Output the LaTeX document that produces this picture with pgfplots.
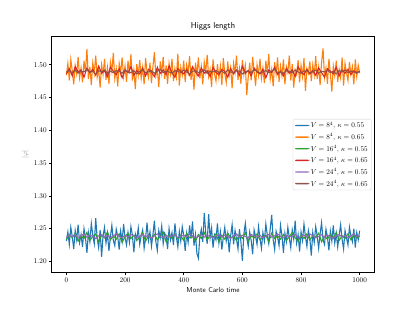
\documentclass[border=0pt]{standalone}
\usepackage{pgfplots}
\pgfplotsset{compat=1.18}
\usepackage{pgfplotstable}
\definecolor{mplblue}{HTML}{1F77B4}
\definecolor{mplorange}{HTML}{FF7F0E}
\definecolor{mplgreen}{HTML}{2CA02C}
\definecolor{mplred}{HTML}{D62728}
\definecolor{mplpurple}{HTML}{9467BD}
\definecolor{mplbrown}{HTML}{8C564B}

% V=8^4, kappa=0.55 (step 5)
\pgfplotstableread[row sep=\\]{y\\
1.231\\1.245\\1.226\\1.252\\1.238\\1.219\\1.247\\1.233\\1.256\\1.229\\
1.241\\1.222\\1.250\\1.236\\1.213\\1.244\\1.230\\1.258\\1.240\\1.227\\
1.266\\1.235\\1.221\\1.248\\1.207\\1.239\\1.252\\1.228\\1.243\\1.216\\
1.237\\1.255\\1.232\\1.224\\1.249\\1.238\\1.218\\1.246\\1.231\\1.257\\
1.236\\1.225\\1.244\\1.229\\1.253\\1.240\\1.214\\1.242\\1.234\\1.251\\
1.226\\1.239\\1.248\\1.220\\1.236\\1.259\\1.232\\1.245\\1.223\\1.241\\
1.262\\1.230\\1.217\\1.247\\1.236\\1.254\\1.227\\1.243\\1.238\\1.219\\
1.250\\1.233\\1.244\\1.225\\1.258\\1.237\\1.222\\1.246\\1.231\\1.253\\
1.240\\1.216\\1.243\\1.229\\1.255\\1.235\\1.261\\1.224\\1.241\\1.212\\
1.205\\1.238\\1.249\\1.230\\1.274\\1.244\\1.227\\1.272\\1.236\\1.251\\
1.221\\1.240\\1.233\\1.258\\1.228\\1.245\\1.218\\1.237\\1.252\\1.231\\
1.243\\1.214\\1.239\\1.256\\1.226\\1.247\\1.234\\1.219\\1.249\\1.230\\
1.201\\1.242\\1.258\\1.236\\1.223\\1.245\\1.232\\1.211\\1.248\\1.238\\
1.226\\1.253\\1.235\\1.220\\1.244\\1.231\\1.257\\1.240\\1.227\\1.250\\
1.271\\1.233\\1.218\\1.246\\1.237\\1.224\\1.255\\1.239\\1.213\\1.243\\
1.230\\1.252\\1.236\\1.221\\1.248\\1.234\\1.262\\1.228\\1.241\\1.215\\
1.245\\1.232\\1.257\\1.238\\1.223\\1.247\\1.235\\1.209\\1.244\\1.229\\
1.253\\1.239\\1.220\\1.242\\1.259\\1.233\\1.226\\1.249\\1.237\\1.217\\
1.246\\1.231\\1.255\\1.228\\1.243\\1.222\\1.240\\1.256\\1.234\\1.219\\
1.247\\1.236\\1.225\\1.252\\1.239\\1.230\\1.250\\1.221\\1.244\\1.233\\
1.247\\
}\tA

% V=8^4, kappa=0.65 (step 5)
\pgfplotstableread[row sep=\\]{y\\
1.484\\1.502\\1.476\\1.508\\1.491\\1.470\\1.499\\1.486\\1.512\\1.480\\
1.495\\1.473\\1.506\\1.489\\1.524\\1.478\\1.497\\1.469\\1.503\\1.487\\
1.514\\1.481\\1.493\\1.465\\1.500\\1.485\\1.509\\1.477\\1.496\\1.471\\
1.504\\1.490\\1.518\\1.479\\1.494\\1.467\\1.502\\1.488\\1.511\\1.482\\
1.498\\1.474\\1.506\\1.486\\1.516\\1.476\\1.492\\1.463\\1.501\\1.484\\
1.507\\1.479\\1.496\\1.470\\1.510\\1.489\\1.480\\1.503\\1.472\\1.497\\
1.519\\1.483\\1.493\\1.466\\1.505\\1.487\\1.512\\1.478\\1.499\\1.471\\
1.502\\1.486\\1.509\\1.475\\1.494\\1.481\\1.517\\1.468\\1.496\\1.484\\
1.506\\1.474\\1.500\\1.488\\1.513\\1.477\\1.495\\1.462\\1.503\\1.485\\
1.511\\1.479\\1.497\\1.470\\1.504\\1.489\\1.515\\1.482\\1.493\\1.466\\
1.508\\1.486\\1.475\\1.501\\1.480\\1.498\\1.469\\1.510\\1.487\\1.473\\
1.505\\1.483\\1.496\\1.464\\1.502\\1.488\\1.514\\1.477\\1.494\\1.471\\
1.507\\1.485\\1.499\\1.454\\1.481\\1.503\\1.476\\1.512\\1.490\\1.468\\
1.500\\1.484\\1.509\\1.479\\1.495\\1.472\\1.506\\1.487\\1.516\\1.478\\
1.493\\1.467\\1.504\\1.486\\1.511\\1.474\\1.498\\1.483\\1.508\\1.470\\
1.497\\1.488\\1.514\\1.476\\1.501\\1.465\\1.492\\1.485\\1.507\\1.473\\
1.499\\1.482\\1.510\\1.460\\1.494\\1.487\\1.505\\1.475\\1.500\\1.484\\
1.513\\1.478\\1.496\\1.469\\1.503\\1.525\\1.481\\1.495\\1.471\\1.509\\
1.486\\1.459\\1.498\\1.483\\1.506\\1.474\\1.493\\1.480\\1.511\\1.468\\
1.502\\1.488\\1.476\\1.504\\1.485\\1.497\\1.470\\1.508\\1.482\\1.499\\
1.487\\
}\tB

% V=16^4, kappa=0.55 (step 10)
\pgfplotstableread[row sep=\\]{y\\
1.233\\1.241\\1.236\\1.243\\1.231\\1.239\\1.235\\1.244\\1.232\\1.238\\
1.242\\1.230\\1.240\\1.236\\1.245\\1.233\\1.239\\1.234\\1.242\\1.229\\
1.238\\1.243\\1.235\\1.240\\1.232\\1.237\\1.244\\1.231\\1.239\\1.236\\
1.241\\1.233\\1.238\\1.245\\1.230\\1.240\\1.235\\1.242\\1.234\\1.239\\
1.232\\1.243\\1.236\\1.238\\1.231\\1.241\\1.235\\1.244\\1.233\\1.239\\
1.237\\1.242\\1.230\\1.240\\1.234\\1.243\\1.236\\1.238\\1.232\\1.241\\
1.235\\1.244\\1.231\\1.239\\1.236\\1.242\\1.233\\1.238\\1.240\\1.230\\
1.243\\1.235\\1.239\\1.234\\1.241\\1.232\\1.238\\1.244\\1.236\\1.231\\
1.240\\1.235\\1.242\\1.233\\1.239\\1.237\\1.243\\1.230\\1.238\\1.234\\
1.241\\1.236\\1.244\\1.232\\1.239\\1.235\\1.242\\1.233\\1.240\\1.236\\
1.238\\
}\tC

% V=16^4, kappa=0.65 (step 10)
\pgfplotstableread[row sep=\\]{y\\
1.486\\1.494\\1.483\\1.497\\1.489\\1.492\\1.481\\1.495\\1.488\\1.493\\
1.484\\1.498\\1.487\\1.491\\1.482\\1.496\\1.490\\1.485\\1.494\\1.480\\
1.492\\1.488\\1.497\\1.484\\1.491\\1.486\\1.495\\1.483\\1.493\\1.489\\
1.482\\1.496\\1.487\\1.492\\1.485\\1.498\\1.488\\1.481\\1.494\\1.490\\
1.486\\1.493\\1.484\\1.497\\1.489\\1.483\\1.495\\1.487\\1.491\\1.482\\
1.496\\1.488\\1.485\\1.493\\1.490\\1.481\\1.494\\1.486\\1.492\\1.484\\
1.498\\1.487\\1.491\\1.483\\1.495\\1.489\\1.486\\1.493\\1.480\\1.492\\
1.488\\1.496\\1.485\\1.490\\1.483\\1.494\\1.487\\1.492\\1.482\\1.497\\
1.489\\1.485\\1.493\\1.486\\1.491\\1.484\\1.495\\1.488\\1.481\\1.494\\
1.490\\1.486\\1.496\\1.483\\1.492\\1.487\\1.493\\1.485\\1.491\\1.488\\
1.490\\
}\tD

% V=24^4, kappa=0.55 (step 10)
\pgfplotstableread[row sep=\\]{y\\
1.237\\1.240\\1.238\\1.241\\1.236\\1.239\\1.242\\1.237\\1.240\\1.238\\
1.235\\1.239\\1.241\\1.237\\1.240\\1.236\\1.239\\1.242\\1.238\\1.236\\
1.240\\1.237\\1.241\\1.239\\1.236\\1.238\\1.241\\1.237\\1.240\\1.235\\
1.239\\1.242\\1.238\\1.236\\1.240\\1.237\\1.239\\1.241\\1.236\\1.238\\
1.240\\1.237\\1.242\\1.239\\1.236\\1.238\\1.241\\1.237\\1.240\\1.238\\
1.236\\1.239\\1.241\\1.237\\1.240\\1.238\\1.235\\1.239\\1.242\\1.237\\
1.240\\1.238\\1.236\\1.241\\1.239\\1.237\\1.240\\1.236\\1.238\\1.241\\
1.237\\1.239\\1.242\\1.238\\1.236\\1.240\\1.237\\1.239\\1.241\\1.236\\
1.238\\1.240\\1.237\\1.242\\1.239\\1.236\\1.238\\1.241\\1.237\\1.240\\
1.238\\1.235\\1.239\\1.241\\1.237\\1.240\\1.236\\1.239\\1.242\\1.238\\
1.239\\
}\tE

% V=24^4, kappa=0.65 (step 10)
\pgfplotstableread[row sep=\\]{y\\
1.489\\1.491\\1.488\\1.492\\1.487\\1.490\\1.489\\1.493\\1.488\\1.490\\
1.486\\1.491\\1.489\\1.492\\1.487\\1.490\\1.488\\1.491\\1.490\\1.487\\
1.492\\1.489\\1.488\\1.491\\1.486\\1.490\\1.492\\1.488\\1.489\\1.491\\
1.487\\1.490\\1.493\\1.488\\1.490\\1.489\\1.487\\1.491\\1.490\\1.488\\
1.492\\1.489\\1.486\\1.490\\1.491\\1.488\\1.489\\1.492\\1.487\\1.490\\
1.489\\1.491\\1.488\\1.490\\1.487\\1.492\\1.489\\1.488\\1.491\\1.490\\
1.486\\1.489\\1.491\\1.488\\1.492\\1.490\\1.487\\1.489\\1.491\\1.488\\
1.490\\1.493\\1.488\\1.489\\1.487\\1.491\\1.490\\1.488\\1.492\\1.489\\
1.487\\1.490\\1.491\\1.488\\1.489\\1.492\\1.487\\1.490\\1.489\\1.491\\
1.488\\1.490\\1.486\\1.491\\1.489\\1.492\\1.488\\1.490\\1.489\\1.487\\
1.490\\
}\tF

\begin{document}
\begin{tikzpicture}
\path[use as bounding box] (0,0) rectangle (576pt,432pt);
\begin{axis}[
  at={(71.8pt,53.7pt)}, anchor=south west,
  scale only axis, width=447.8pt, height=327.6pt,
  xmin=-50, xmax=1050, ymin=1.183, ymax=1.543,
  xtick={0,200,400,600,800,1000},
  ytick={1.20,1.25,1.30,1.35,1.40,1.45,1.50},
  yticklabel style={/pgf/number format/.cd, fixed, fixed zerofill, precision=2},
  xticklabel style={/pgf/number format/.cd, fixed, 1000 sep={}},
  scaled y ticks=false, scaled x ticks=false,
  tick align=outside, major tick length=3.5pt,
  xtick pos=left, ytick pos=left,
  tick style={black, line width=0.8pt},
  axis line style={line width=0.8pt},
  title={\sffamily\large Higgs length},
  title style={yshift=-1pt},
  xlabel={\sffamily Monte Carlo time},
  ylabel={\color{gray}$|\varphi|$},
  legend cell align=left,
  legend style={at={(1,0.5)}, xshift=-4pt, anchor=east, draw=black!20,
    rounded corners=2pt, row sep=2.5pt},
  legend image code/.code={\fill[#1, draw=none] (0pt,-1pt) rectangle (20pt,1pt);},
]
\addplot[mplblue, line width=1.5pt] table[x expr=\coordindex*5, y=y] {\tA};
\addlegendentry{$V=8^4$, $\kappa=0.55$}
\addplot[mplorange, line width=1.5pt] table[x expr=\coordindex*5, y=y] {\tB};
\addlegendentry{$V=8^4$, $\kappa=0.65$}
\addplot[mplgreen, line width=1.5pt] table[x expr=\coordindex*10, y=y] {\tC};
\addlegendentry{$V=16^4$, $\kappa=0.55$}
\addplot[mplred, line width=1.5pt] table[x expr=\coordindex*10, y=y] {\tD};
\addlegendentry{$V=16^4$, $\kappa=0.65$}
\addplot[mplpurple, line width=1.5pt] table[x expr=\coordindex*10, y=y] {\tE};
\addlegendentry{$V=24^4$, $\kappa=0.55$}
\addplot[mplbrown, line width=1.5pt] table[x expr=\coordindex*10, y=y] {\tF};
\addlegendentry{$V=24^4$, $\kappa=0.65$}
\end{axis}
\end{tikzpicture}
\end{document}
